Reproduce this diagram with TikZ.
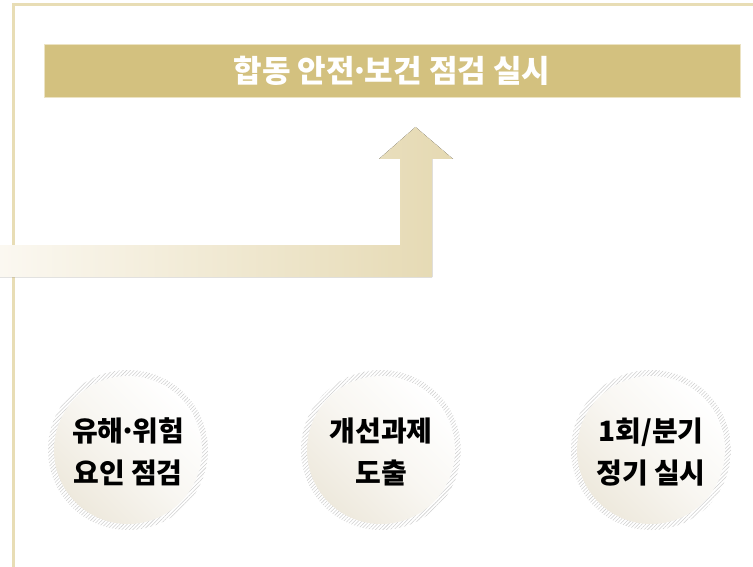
\documentclass[tikz,border=0pt]{standalone}
\usepackage{fontspec}
\newfontfamily\kr{Noto Sans CJK KR}
\usetikzlibrary{patterns.meta}
\definecolor{frameC}{HTML}{E8DDB5}
\definecolor{barC}{HTML}{D3C17F}
\definecolor{barEdge}{HTML}{ECE3C3}
\definecolor{arrL}{HTML}{FBF8F1}
\definecolor{arrR}{HTML}{E5D9B2}
\definecolor{circEnd}{HTML}{EEE9DD}
\definecolor{hatchC}{HTML}{CFCFCF}
\newcommand{\tdot}{\makebox[0.32em]{·}}
\tikzset{
  titlebar/.style={draw=barEdge, line width=0.8pt, fill=barC, minimum width=696pt, minimum height=53pt, inner sep=0pt,
    text=white, font=\kr\bfseries\fontsize{31}{36}\selectfont},
  hatchring/.style={circle, minimum size=160pt, inner sep=0pt, draw=none,
    pattern={Lines[angle=45,distance=2.6pt,line width=0.55pt]}, pattern color=hatchC},
  disc/.style={circle, minimum size=148pt, inner sep=0pt, draw=none,
    left color=white, right color=circEnd, middle color=white!60!circEnd, shading angle=-45},
  disctext/.style={align=center, font=\kr\bfseries\fontsize{28}{42}\selectfont, text=black}
}
\begin{document}
\begin{tikzpicture}[x=1pt,y=-1pt]
\useasboundingbox (0,0) rectangle (753,567);
% frame
\draw[frameC, line width=2.6pt] (13.5,567) -- (13.5,4.3) -- (753,4.3);
% title bar
\node[titlebar] (title) at (392,70.5) {합동 안전\tdot 보건 점검 실시};
% arrow
\coordinate (tip) at (415.5,127);
\fill[left color=arrL, right color=arrR]
  (0,245) -- (400,245) -- (400,159) -- (379,159) -- (tip) -- (453,159) -- (432,159) -- (432,277) -- (0,277) -- cycle;
% circles
\node[hatchring] (h1) at (128,450) {};
\node[hatchring] (h2) at (381,450) {};
\node[hatchring] (h3) at (651,450) {};
\node[disc] (c1) at (h1) {};
\node[disc] (c2) at (h2) {};
\node[disc] (c3) at (h3) {};
\node[disctext] (t1) at (128,452) {유해\tdot 위험\\요인 점검};
\node[disctext] (t2) at (381,452) {개선과제\\도출};
\node[disctext] (t3) at (651,452) {1회/분기\\정기 실시};
\end{tikzpicture}
\end{document}
